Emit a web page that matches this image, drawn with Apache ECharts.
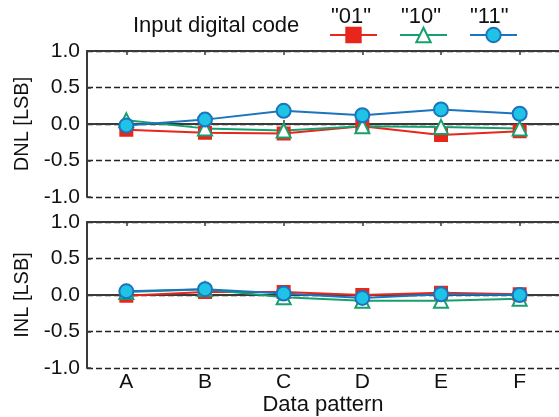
<!DOCTYPE html>
<html>
<head>
<meta charset="utf-8">
<script src="https://cdn.jsdelivr.net/npm/echarts@6/dist/echarts.min.js"></script>
<style>
  html, body { margin: 0; padding: 0; background: #fff; }
  #chart { width: 559px; height: 417px; }
</style>
</head>
<body>
<div id="chart"></div>
<script>
// Data patterns on the shared x axis
const patterns = ['A', 'B', 'C', 'D', 'E', 'F'];
const codes = ['"01"', '"10"', '"11"'];

// Differential non-linearity [LSB] per input code
const dnl01 = [-0.08, -0.12, -0.13, -0.03, -0.15, -0.10];
const dnl10 = [0.05, -0.06, -0.09, -0.03, -0.04, -0.06];
const dnl11 = [-0.02, 0.06, 0.18, 0.12, 0.20, 0.14];

// Integral non-linearity [LSB] per input code
const inl01 = [-0.01, 0.04, 0.04, 0.00, 0.03, 0.01];
const inl10 = [0.04, 0.08, -0.03, -0.08, -0.08, -0.05];
const inl11 = [0.05, 0.08, 0.02, -0.04, 0.01, 0.00];

const yTicks = [-1.0, -0.5, 0.0, 0.5, 1.0];

const FONT = 'Liberation Sans, Arial, sans-serif';
const AXIS_COLOR = '#3a3a3a';
const TEXT_COLOR = '#111';

const styles = {
  '"01"': { line: '#e8261c', fill: '#e8261c', border: '#e8261c', symbol: 'rect', size: 12 },
  '"10"': { line: '#17a06e', fill: '#ffffff', border: '#17a06e', symbol: 'triangle', size: 14 },
  '"11"': { line: '#1c74bc', fill: '#1ec3e6', border: '#1c74bc', symbol: 'circle', size: 14 }
};

const grids = [
  { left: 87, top: 51, width: 474, height: 146 },
  { left: 87, top: 222, width: 474, height: 146 }
];

function xAxes(gridIndex, showLabels) {
  const base = {
    type: 'category',
    data: patterns,
    gridIndex: gridIndex,
    boundaryGap: true,
    axisLine: { show: true, lineStyle: { color: AXIS_COLOR, width: 2 } },
    axisTick: { show: true, inside: true, alignWithLabel: true, length: 4, lineStyle: { color: AXIS_COLOR, width: 1.5 } },
    splitLine: { show: false }
  };
  return [
    Object.assign({}, base, {
      position: 'bottom',
      axisLabel: {
        show: showLabels, color: TEXT_COLOR, fontFamily: FONT, fontSize: 21, margin: 4
      },
      name: showLabels ? 'Data pattern' : '',
      nameLocation: 'middle',
      nameGap: 25,
      nameTextStyle: { color: TEXT_COLOR, fontFamily: FONT, fontSize: 22 }
    }),
    Object.assign({}, base, {
      position: 'top',
      axisLabel: { show: false }
    })
  ];
}

function yAxis(gridIndex, name) {
  return {
    type: 'value',
    gridIndex: gridIndex,
    min: -1.0,
    max: 1.0,
    interval: 0.5,
    name: name,
    nameLocation: 'middle',
    nameGap: 53,
    nameTextStyle: { color: TEXT_COLOR, fontFamily: FONT, fontSize: 20 },
    axisLine: { show: true, lineStyle: { color: AXIS_COLOR, width: 2 } },
    axisTick: { show: true, inside: true, length: 4, lineStyle: { color: AXIS_COLOR, width: 1.5 } },
    axisLabel: {
      color: TEXT_COLOR, fontFamily: FONT, fontSize: 21, margin: 7,
      formatter: function (v) {
        const t = yTicks.find(function (k) { return Math.abs(k - v) < 1e-9; });
        return t === undefined ? '' : t.toFixed(1);
      }
    },
    splitLine: {
      show: true,
      lineStyle: { color: '#222', width: 1.3, type: [6, 3] }
    }
  };
}

function lineSeries(code, data, xIdx, yIdx) {
  const s = styles[code];
  return {
    name: code,
    type: 'line',
    xAxisIndex: xIdx,
    yAxisIndex: yIdx,
    data: data,
    symbol: s.symbol,
    symbolSize: s.size,
    lineStyle: { color: s.line, width: 2 },
    itemStyle: { color: s.fill, borderColor: s.border, borderWidth: 2 },
    z: 3
  };
}

const legendLefts = [329, 399, 469];
const legends = codes.map(function (c, i) {
  return {
    data: [c],
    left: legendLefts[i],
    top: 26,
    itemWidth: 47,
    itemHeight: 18,
    formatter: function () { return ''; },
    selectedMode: false,
    padding: 0
  };
});

const labelCenters = [353, 423, 492];
const graphics = codes.map(function (c, i) {
  return {
    type: 'text',
    left: labelCenters[i] - 22,
    top: 6,
    style: {
      text: c, fontFamily: FONT, fontSize: 22, fill: TEXT_COLOR,
      width: 44, align: 'center'
    }
  };
});
graphics.push({
  type: 'text',
  left: 133,
  top: 15,
  style: { text: 'Input digital code', fontFamily: FONT, fontSize: 22, fill: TEXT_COLOR }
});

const option = {
  animation: false,
  backgroundColor: '#ffffff',
  grid: grids,
  xAxis: xAxes(0, false).concat(xAxes(1, true)),
  yAxis: [yAxis(0, 'DNL [LSB]'), yAxis(1, 'INL [LSB]')],
  legend: legends,
  graphic: graphics,
  series: [
    lineSeries('"01"', dnl01, 0, 0),
    lineSeries('"10"', dnl10, 0, 0),
    lineSeries('"11"', dnl11, 0, 0),
    lineSeries('"01"', inl01, 2, 1),
    lineSeries('"10"', inl10, 2, 1),
    lineSeries('"11"', inl11, 2, 1)
  ]
};

const chart = echarts.init(document.getElementById('chart'), null, { renderer: 'canvas' });
chart.setOption(option);
</script>
</body>
</html>
